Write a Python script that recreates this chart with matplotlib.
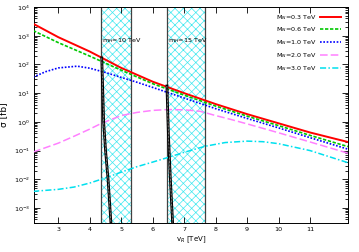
import numpy as np
import matplotlib
matplotlib.use('Agg')
import matplotlib.pyplot as plt
from matplotlib.ticker import FixedLocator, NullFormatter

# cross sections (log10 of sigma in fb)
vr_03 = [2.2, 3, 4, 5, 6, 7, 8, 9, 10, 11, 12.2]
log_03 = [3.42, 2.95, 2.45, 1.88, 1.40, 1.00, 0.62, 0.27, -0.05, -0.37, -0.70]

vr_06 = [2.2, 3, 4, 5, 6, 7, 8, 9, 10, 11, 12.2]
log_06 = [3.18, 2.76, 2.29, 1.80, 1.33, 0.93, 0.55, 0.20, -0.13, -0.47, -0.86]

vr_10 = [2.2, 2.6, 3, 3.6, 4, 4.5, 5, 5.5, 6, 7, 8, 9, 10, 11, 12.2]
log_10 = [1.56, 1.75, 1.88, 1.94, 1.87, 1.72, 1.55, 1.38, 1.20, 0.83, 0.46, 0.12, -0.21, -0.55, -0.95]

vr_20 = [2.2, 3, 3.5, 4, 4.37, 5, 5.5, 6, 6.5, 7, 7.5, 8, 8.5, 9, 10, 11, 12.2]
log_20 = [-1.05, -0.74, -0.50, -0.25, -0.05, 0.22, 0.33, 0.40, 0.43, 0.42, 0.37, 0.22, 0.08, -0.07, -0.38, -0.70, -1.09]

vr_30 = [2.2, 3, 3.5, 4, 4.5, 5, 5.5, 6, 6.45, 7, 7.66, 8.3, 9, 9.5, 10, 11, 12.2]
log_30 = [-2.42, -2.35, -2.27, -2.13, -1.95, -1.75, -1.56, -1.40, -1.25, -1.06, -0.85, -0.72, -0.67, -0.69, -0.76, -1.00, -1.42]

# black limit curves inside the bands
vr_h10 = [4.38, 4.44, 4.50, 4.58, 4.67]
log_h10 = [2.23, 0.0, -1.0, -2.0, -3.5]
vr_h15 = [6.45, 6.50, 6.56, 6.63]
log_h15 = [1.25, -0.5, -2.0, -3.5]

# mH bands
bands = [(4.37, 5.30), (6.45, 7.66)]
band_labels = ['m$_H$=10 TeV', 'm$_H$=15 TeV']

x_ticks = [3, 4, 5, 6, 7, 8, 9, 10, 11]
y_decades = [-3, -2, -1, 0, 1, 2, 3, 4]

series = [
    (vr_03, log_03, 'M$_N$=0.3 TeV', '#ff0000', '-', 1.4),
    (vr_06, log_06, 'M$_N$=0.6 TeV', '#00c800', (0, (2, 1)), 1.2),
    (vr_10, log_10, 'M$_N$=1.0 TeV', '#0000ff', (0, (1, 1)), 1.2),
    (vr_20, log_20, 'M$_N$=2.0 TeV', '#ff80ff', (0, (5, 2)), 1.1),
    (vr_30, log_30, 'M$_N$=3.0 TeV', '#00e0ee', (0, (4, 1.5, 1, 1.5)), 1.1),
]

plt.rcParams['hatch.linewidth'] = 0.5
fig = plt.figure(figsize=(3.59, 2.52), dpi=100)
ax = fig.add_axes([0.095, 0.115, 0.874, 0.857])

for (lo, hi), lab in zip(bands, band_labels):
    ax.axvspan(lo, hi, facecolor='none', edgecolor='#40e8f0', hatch='xxxx', linewidth=0, zorder=1)
    ax.axvline(lo, color='#404040', lw=0.9, zorder=2)
    ax.axvline(hi, color='#404040', lw=0.9, zorder=2)
    ax.text(lo + 0.03, 700, lab, fontsize=4.6, ha='left', va='center', zorder=5)

for x, ly, lab, c, ls, lw in series:
    ax.plot(x, 10 ** np.array(ly), color=c, linestyle=ls, lw=lw, label=lab, zorder=3)

for x, ly in [(vr_h10, log_h10), (vr_h15, log_h15)]:
    ax.plot(x, 10 ** np.array(ly), color='black', lw=2.0, zorder=4)
    ax.plot(x, 10 ** np.array(ly), color='white', lw=0.5, linestyle=(0, (1, 1)), zorder=4)

ax.set_yscale('log')
ax.set_xlim(2.23, 12.2)
ax.set_ylim(3e-4, 1e4)
ax.set_xticks(x_ticks)
ax.set_yticks([10.0 ** d for d in y_decades])
ax.set_yticklabels(['$10^{%d}$' % d for d in y_decades])
minor = [m * 10.0 ** d for d in range(-4, 4) for m in range(2, 10) if 3e-4 <= m * 10.0 ** d <= 1e4]
ax.yaxis.set_minor_locator(FixedLocator(minor))
ax.yaxis.set_minor_formatter(NullFormatter())
ax.tick_params(which='both', direction='in', top=True, right=True, labelsize=4.6, pad=3, width=0.6)
ax.tick_params(which='major', length=4)
ax.tick_params(which='minor', length=2)
for s in ax.spines.values():
    s.set_linewidth(0.7)

ax.set_xlabel('v$_R$ [TeV]', fontsize=5, labelpad=2)
ax.set_ylabel('σ [fb]', fontsize=6.5, labelpad=4)

ax.legend(loc='upper right', bbox_to_anchor=(0.985, 0.985), frameon=False, fontsize=4.6,
          markerfirst=False, handlelength=3.2, labelspacing=0.6, handletextpad=0.6, borderaxespad=0)

fig.savefig('out.png', dpi=100)
